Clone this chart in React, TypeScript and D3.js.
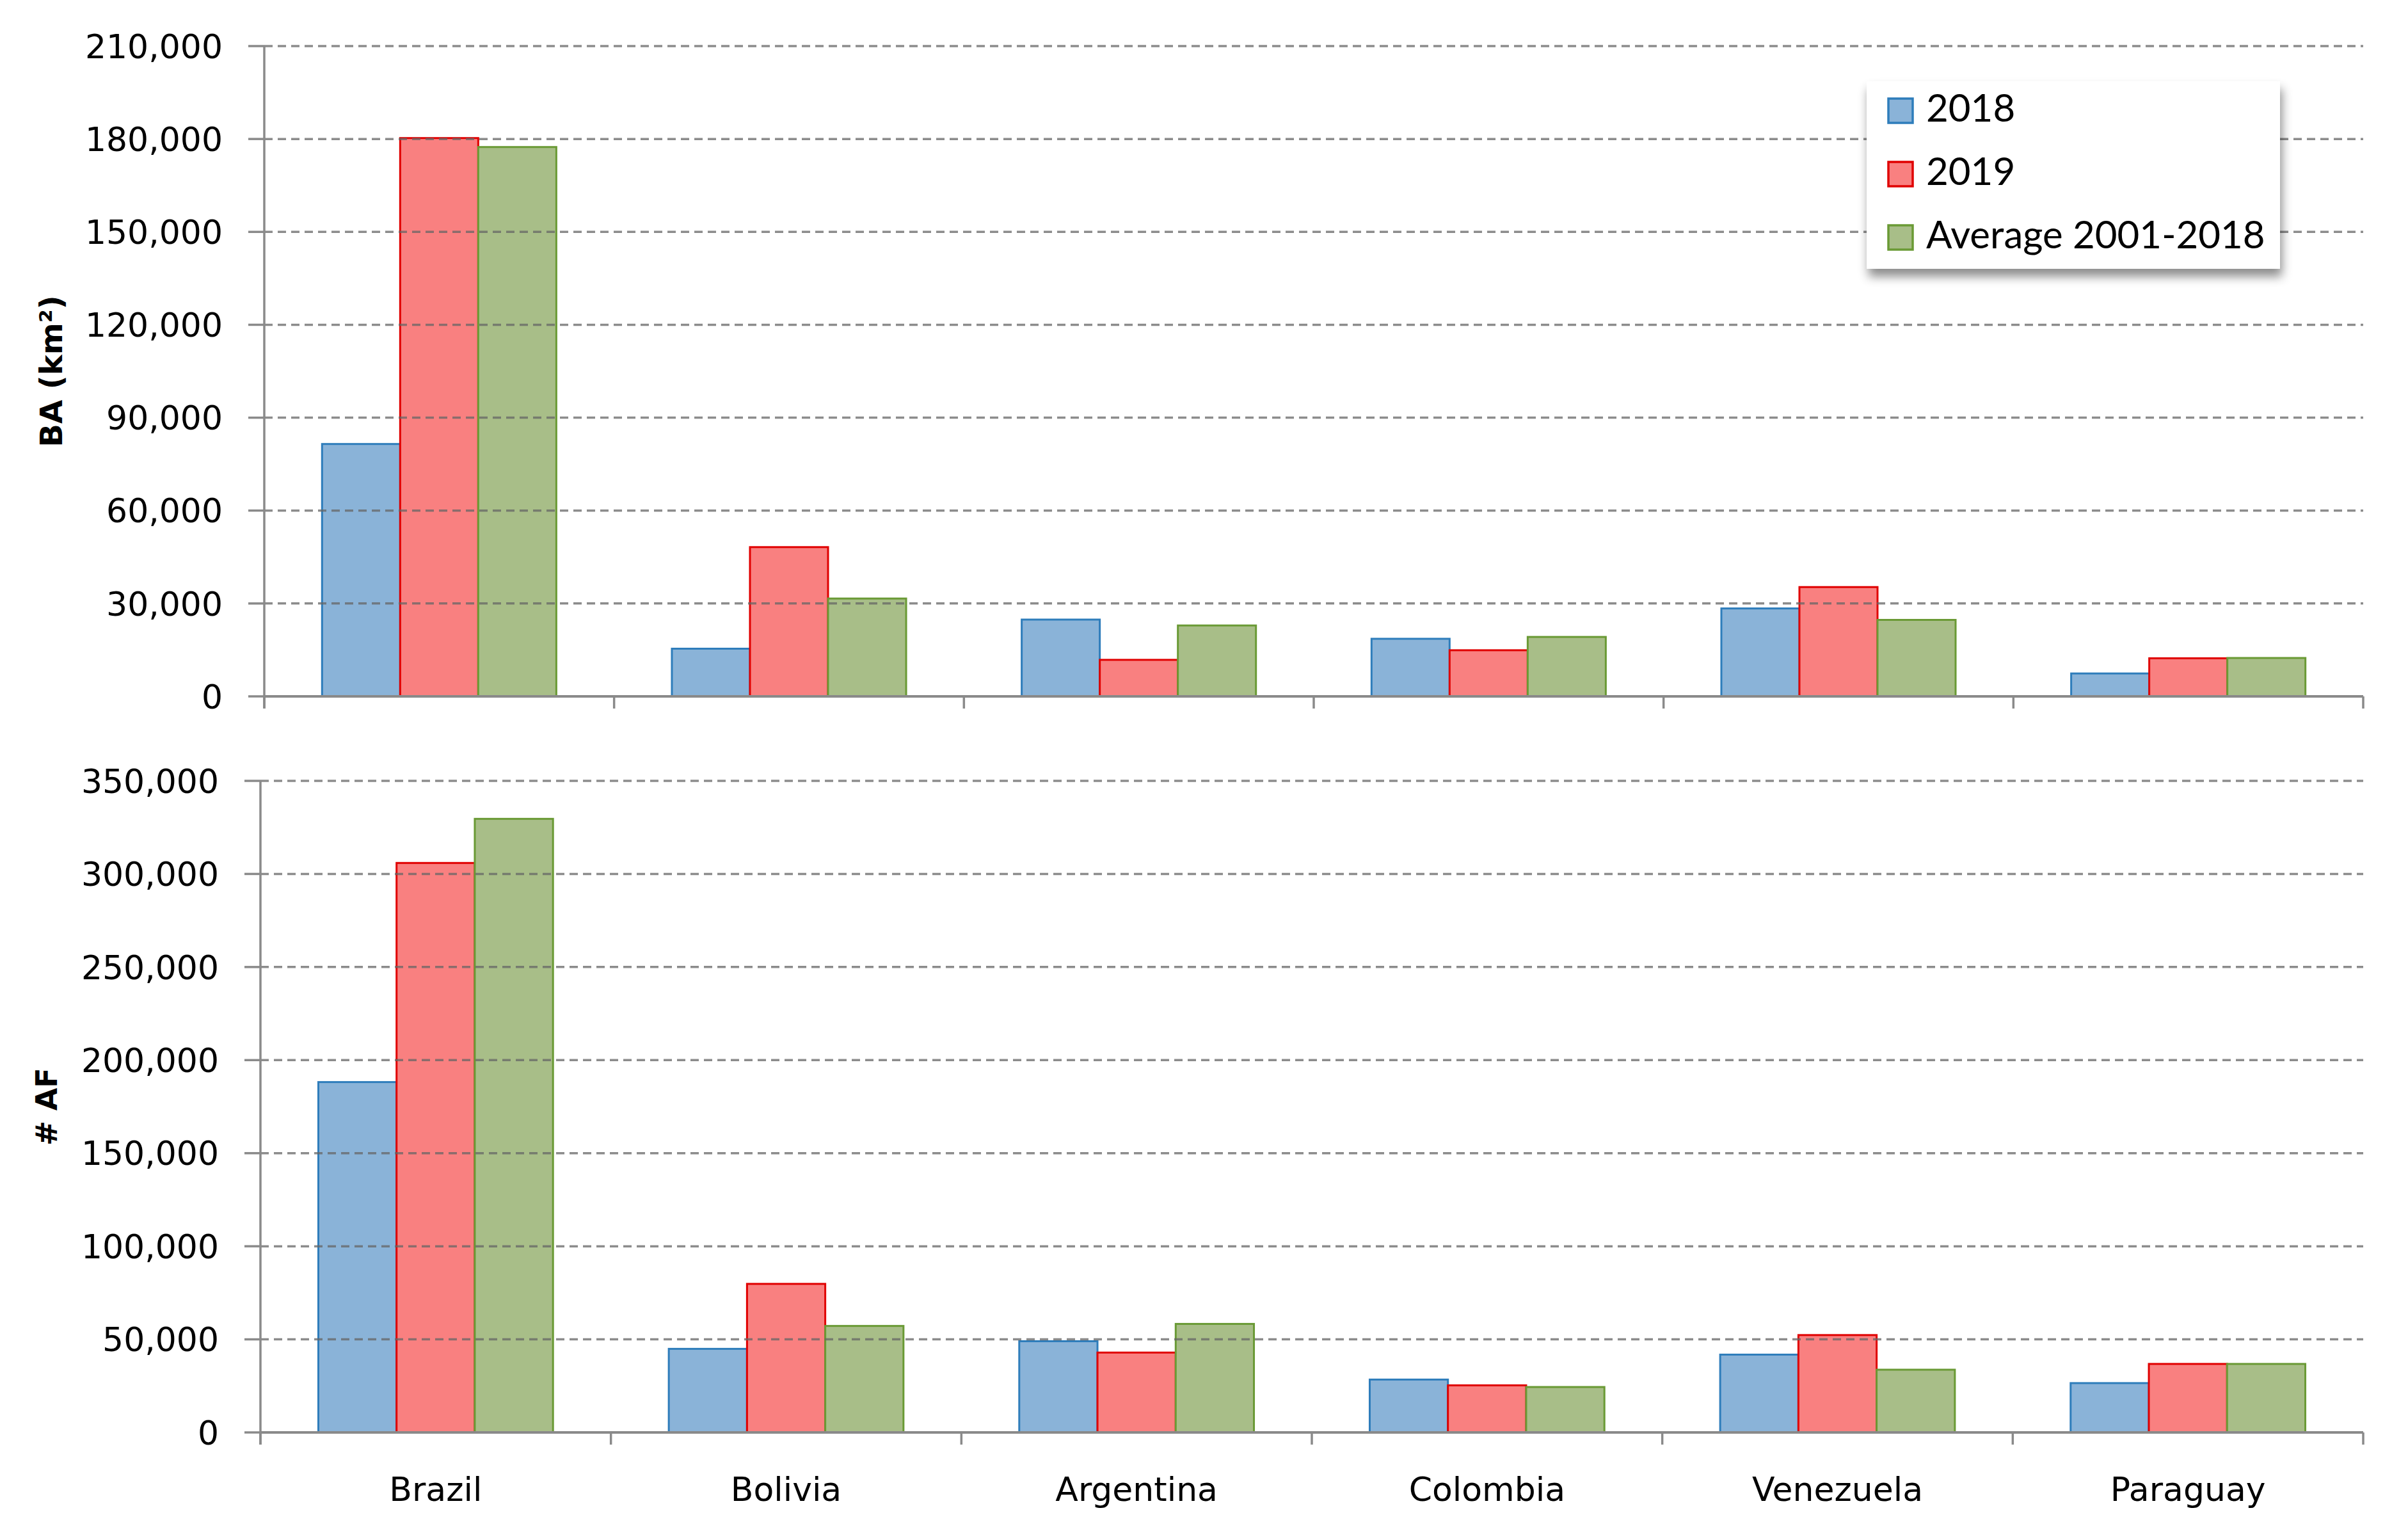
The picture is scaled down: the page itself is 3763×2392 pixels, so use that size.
import React from "react";
import * as d3 from "d3";

// categories and series
const countries = ["Brazil", "Bolivia", "Argentina", "Colombia", "Venezuela", "Paraguay"];
const seriesNames = ["2018", "2019", "Average 2001-2018"];

// burned area (km2)
const ba2018 = [81500, 15400, 24800, 18600, 28400, 7400];
const ba2019 = [180300, 48200, 11800, 14900, 35300, 12300];
const baAvg = [177400, 31600, 22900, 19200, 24700, 12400];

// active fires count
const af2018 = [188200, 44900, 49000, 28400, 41800, 26500];
const af2019 = [305900, 79800, 42900, 25300, 52300, 36800];
const afAvg = [329600, 57200, 58300, 24400, 33700, 36800];

const baTicks = [0, 30000, 60000, 90000, 120000, 150000, 180000, 210000];
const afTicks = [0, 50000, 100000, 150000, 200000, 250000, 300000, 350000];

const fills = ["#8ab3d8", "#f98080", "#a8be88"];
const strokes = ["#2e7dbb", "#e00000", "#6a9a35"];

const W = 3763;
const H = 2392;
const axisColor = "#8a8a8a";
const tickFont = "'DejaVu Sans', Verdana, sans-serif";
const fmt = d3.format(",");

interface PanelProps {
    series: number[][];
    ticks: number[];
    left: number;
    right: number;
    top: number;
    bottom: number;
    title: string;
    titleX: number;
    titleSize: number;
    labelRight: number;
    showCategories: boolean;
}

function Panel(props: PanelProps) {
    const {series, ticks, left, right, top, bottom, title, titleX, titleSize, labelRight, showCategories} = props;

    const x0 = d3.scaleBand<string>().domain(countries).range([left, right]).padding(0);
    const x1 = d3.scaleBand<string>()
        .domain(seriesNames)
        .range([0, x0.bandwidth()])
        .paddingInner(0)
        .paddingOuter(0.74);
    const y = d3.scaleLinear()
        .domain([0, ticks[ticks.length - 1]])
        .range([bottom, top]);

    const boundaries = countries.map(c => x0(c) || 0).concat([right]);

    return (
        <g>
            {/* bars */}
            {countries.map((c, i) => (
                <g key={c} transform={"translate(" + (x0(c) || 0) + ",0)"}>
                    {seriesNames.map((s, j) => {
                        const v = series[j][i];
                        return (
                            <rect
                                key={s}
                                x={x1(s) || 0}
                                y={y(v)}
                                width={x1.bandwidth()}
                                height={y(0) - y(v)}
                                fill={fills[j]}
                                stroke={strokes[j]}
                                strokeWidth={3}
                            />
                        );
                    })}
                </g>
            ))}

            {/* dashed gridlines */}
            {ticks.filter(t => t > 0).map(t => (
                <line key={"g" + t} x1={left} x2={right} y1={y(t)} y2={y(t)}
                    stroke="#666" strokeOpacity={0.75} strokeWidth={3.5} strokeDasharray="13 8" />
            ))}

            {/* y axis */}
            <line x1={left} x2={left} y1={top} y2={bottom + 19} stroke={axisColor} strokeWidth={3.5} />
            {ticks.map(t => (
                <g key={"t" + t}>
                    <line x1={left - 25} x2={left} y1={y(t)} y2={y(t)} stroke={axisColor} strokeWidth={3.5} />
                    <text x={labelRight} y={y(t)} dy="0.36em" textAnchor="end"
                        fontFamily={tickFont} fontSize={52} fill="#000">{fmt(t)}</text>
                </g>
            ))}

            {/* x axis */}
            <line x1={left} x2={right} y1={bottom} y2={bottom} stroke={axisColor} strokeWidth={4} />
            {boundaries.map((bx, i) => (
                <line key={"b" + i} x1={bx} x2={bx} y1={bottom} y2={bottom + 19} stroke={axisColor} strokeWidth={3.5} />
            ))}
            {showCategories && countries.map(c => (
                <text key={"c" + c} x={(x0(c) || 0) + x0.bandwidth() / 2} y={bottom + 107}
                    textAnchor="middle" fontFamily={tickFont} fontSize={52} fill="#000">{c}</text>
            ))}

            {/* y title */}
            <text transform={"translate(" + titleX + "," + (top + bottom) / 2 + ") rotate(-90)"}
                textAnchor="middle" dominantBaseline="central"
                fontFamily={tickFont} fontWeight="bold" fontSize={titleSize} fill="#000">{title}</text>
        </g>
    );
}

function Legend() {
    const lx = 2917, ly = 127, lw = 646, lh = 293;
    return (
        <g>
            <rect x={lx} y={ly} width={lw} height={lh} fill="#fff" filter="url(#legendShadow)" />
            {seriesNames.map((s, j) => (
                <g key={s} transform={"translate(" + (lx + 34) + "," + (ly + 27 + j * 99) + ")"}>
                    <rect x={0} y={0} width={38} height={38} fill={fills[j]} stroke={strokes[j]} strokeWidth={3.5} />
                    <text x={59} y={36} fontFamily="Lato, 'Open Sans', sans-serif" fontSize={60} fill="#000">{s}</text>
                </g>
            ))}
        </g>
    );
}

export default function App() {
    return (
        <svg width={W} height={H} style={{position: "absolute", left: 0, top: 0, background: "#fff"}}>
            <defs>
                <filter id="legendShadow" x="-10%" y="-10%" width="130%" height="140%">
                    <feDropShadow dx={3} dy={12} stdDeviation={8} floodColor="#000" floodOpacity={0.45} />
                </filter>
            </defs>
            <rect x={0} y={0} width={W} height={H} fill="#fff" />
            <Panel
                series={[ba2018, ba2019, baAvg]}
                ticks={baTicks}
                left={413} right={3693} top={72} bottom={1088}
                title="BA (km²)" titleX={80} titleSize={48}
                labelRight={348}
                showCategories={false}
            />
            <Panel
                series={[af2018, af2019, afAvg]}
                ticks={afTicks}
                left={407} right={3693} top={1220} bottom={2238}
                title="# AF" titleX={73} titleSize={46}
                labelRight={342}
                showCategories={true}
            />
            <Legend />
        </svg>
    );
}
